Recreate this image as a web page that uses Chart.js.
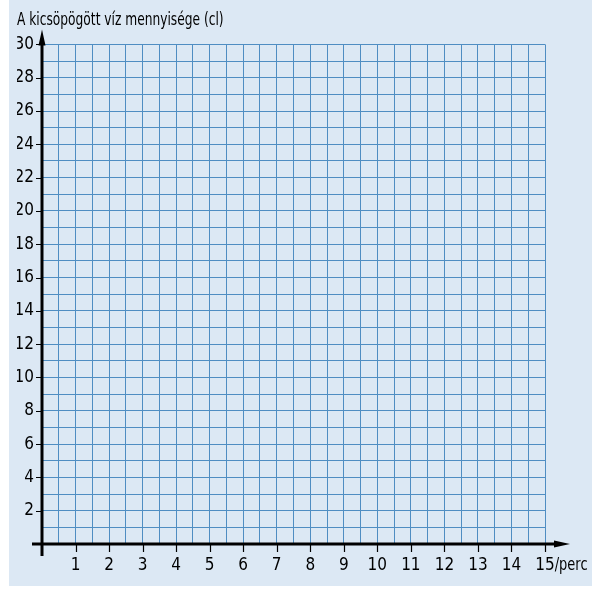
<!DOCTYPE html>
<html>
<head>
<meta charset="utf-8">
<script src="https://cdn.jsdelivr.net/npm/chart.js@4.4.0/dist/chart.umd.min.js"></script>
<style>
html,body{margin:0;padding:0;background:#ffffff;}
#wrap{position:relative;width:600px;height:596px;}
canvas{display:block;}
</style>
</head>
<body>
<div id="wrap"><canvas id="c" style="width:600px;height:596px"></canvas></div>
<script>
// ---- data ----
const chartTitle = 'A kicsöpögött víz mennyisége (cl)';
const xUnit = '/perc';
const xTickValues = [1,2,3,4,5,6,7,8,9,10,11,12,13,14,15];
const yTickValues = [2,4,6,8,10,12,14,16,18,20,22,24,26,28,30];
const xRange = [0, 15];
const yRange = [0, 30];
const seriesPoints = []; // empty grid: no plotted values

const FONT = '"Liberation Sans Narrow", "DejaVu Sans Condensed", sans-serif';
const GRID = '#4f8dc2';
const PANEL = '#dce8f4';
const SQUEEZE = 0.8;

const decor = {
  id: 'decor',
  afterLayout(chart) {
    const tb = chart.titleBlock;
    if (tb && !tb._squeezed) {
      const orig = tb.draw.bind(tb);
      tb.draw = function () {
        const ctx = chart.ctx;
        ctx.save();
        ctx.translate(tb.left, 0);
        ctx.scale(SQUEEZE, 1);
        ctx.translate(-tb.left, 0);
        orig();
        ctx.restore();
      };
      tb._squeezed = true;
    }
  },
  beforeDraw(chart) {
    const ctx = chart.ctx;
    ctx.save();
    ctx.fillStyle = PANEL;
    ctx.fillRect(9, 0, 583, 586);
    ctx.restore();
  },
  afterDraw(chart) {
    const ctx = chart.ctx;
    const xs = chart.scales.x, ys = chart.scales.y;
    const x0 = xs.getPixelForValue(0), y0 = ys.getPixelForValue(0);
    const yTop = ys.getPixelForValue(yRange[1]);
    const xEnd = xs.getPixelForValue(xRange[1]);
    ctx.save();
    ctx.strokeStyle = '#000';
    ctx.fillStyle = '#000';
    // tick marks
    ctx.lineWidth = 1.2;
    ctx.beginPath();
    xTickValues.forEach(v => {
      const px = Math.round(xs.getPixelForValue(v)) + 0.5;
      ctx.moveTo(px, y0); ctx.lineTo(px, y0 + 8);
    });
    yTickValues.forEach(v => {
      const py = Math.round(ys.getPixelForValue(v)) + 0.5;
      ctx.moveTo(x0 - 6, py); ctx.lineTo(x0, py);
    });
    ctx.stroke();
    // axes
    ctx.lineWidth = 3;
    ctx.beginPath();
    ctx.moveTo(x0 - 10, y0); ctx.lineTo(xEnd + 12, y0);
    ctx.moveTo(x0, y0 + 12); ctx.lineTo(x0, yTop - 4);
    ctx.stroke();
    // x arrow
    ctx.beginPath();
    ctx.moveTo(xEnd + 25, y0);
    ctx.lineTo(xEnd + 9, y0 - 3.5);
    ctx.lineTo(xEnd + 9, y0 + 3.5);
    ctx.closePath(); ctx.fill();
    // y arrow
    ctx.beginPath();
    ctx.moveTo(x0, yTop - 15);
    ctx.lineTo(x0 - 3.5, yTop + 1);
    ctx.lineTo(x0 + 3.5, yTop + 1);
    ctx.closePath(); ctx.fill();
    // unit after last x label
    ctx.font = '17px ' + FONT;
    ctx.textBaseline = 'middle';
    ctx.textAlign = 'left';
    const w = ctx.measureText(String(xRange[1])).width;
    const ux = xEnd + w / 2;
    ctx.translate(ux, 0);
    ctx.scale(0.85, 1);
    ctx.fillText(xUnit, 0, y0 + 22);
    ctx.restore();
  }
};

new Chart(document.getElementById('c'), {
  type: 'scatter',
  data: { datasets: [{ data: seriesPoints, pointRadius: 0 }] },
  plugins: [decor],
  options: {
    responsive: false,
    maintainAspectRatio: false,
    animation: false,
    layout: { padding: { left: 17, right: 55, top: 0, bottom: 0 } },
    plugins: {
      legend: { display: false },
      tooltip: { enabled: false },
      title: {
        display: true,
        text: chartTitle,
        align: 'start',
        color: '#000',
        font: { family: FONT, size: 17, weight: 'normal' },
        padding: { top: 10, bottom: 14 }
      }
    },
    scales: {
      x: {
        type: 'linear',
        min: xRange[0], max: xRange[1],
        afterFit(s) { s.height = 52; },
        border: { display: false },
        grid: { color: GRID, lineWidth: 1, drawTicks: false },
        ticks: {
          stepSize: 0.5,
          autoSkip: false,
          maxRotation: 0,
          maxTicksLimit: 200,
          padding: 11,
          color: '#000',
          font: { family: FONT, size: 17 },
          callback: (v) => xTickValues.includes(v) ? String(v) : ''
        }
      },
      y: {
        type: 'linear',
        min: yRange[0], max: yRange[1],
        afterFit(s) { s.width = 25; },
        border: { display: false },
        grid: { color: GRID, lineWidth: 1, drawTicks: false },
        ticks: {
          stepSize: 1,
          autoSkip: false,
          maxTicksLimit: 200,
          padding: 8,
          color: '#000',
          font: { family: FONT, size: 17 },
          callback: (v) => yTickValues.includes(v) ? String(v) : ''
        }
      }
    }
  }
});
</script>
</body>
</html>
